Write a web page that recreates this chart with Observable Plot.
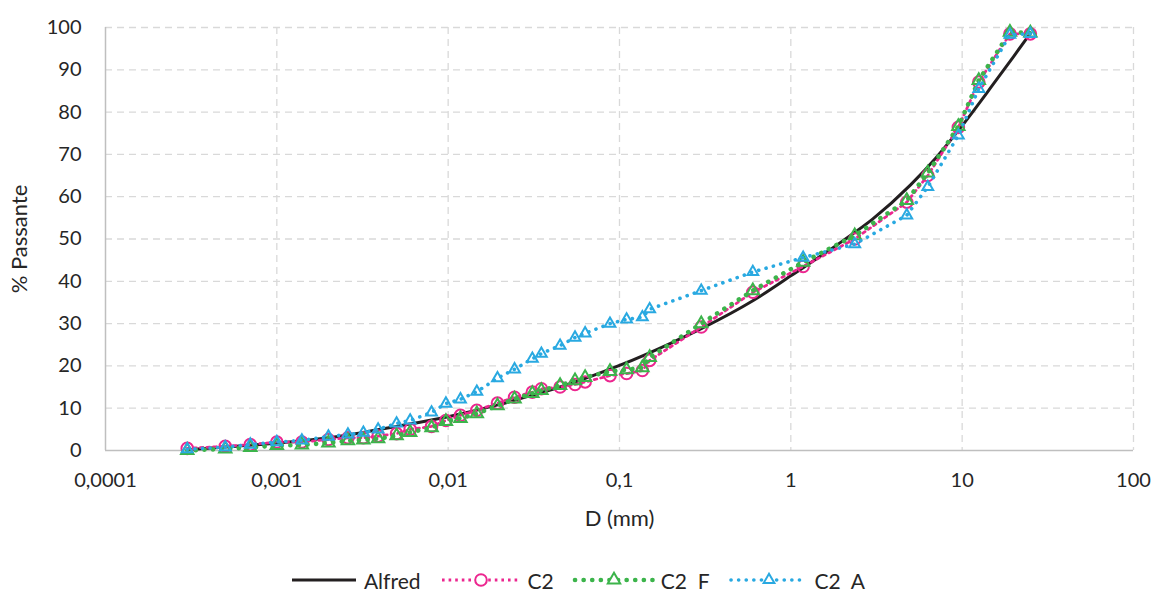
<!DOCTYPE html>
<html>
<head>
<meta charset="utf-8">
<script src="https://cdn.jsdelivr.net/npm/d3@7"></script>
<script src="https://cdn.jsdelivr.net/npm/@observablehq/plot@0.6"></script>
<style>
  html, body { margin: 0; padding: 0; background: #fff; }
  #chart { width: 1152px; height: 560px; }
  #legend { width: 1152px; height: 40px; display: flex; justify-content: center; align-items: center;
            font-family: Lato, "Open Sans", sans-serif; font-size: 21px; color: #262626; gap: 18px; padding-left: 2px; box-sizing: border-box; }
  .item { display: flex; align-items: center; gap: 5px; }
</style>
</head>
<body>
<div id="chart"></div>
<div id="legend"></div>
<script>
// Sieve / hydrometer diameters (mm)
const sizes = [0.0003, 0.0005, 0.0007, 0.001, 0.0014, 0.002, 0.0026, 0.0032, 0.0039, 0.005, 0.006, 0.008,
  0.0097, 0.0118, 0.0147, 0.0194, 0.0244, 0.031, 0.035, 0.045, 0.055, 0.063, 0.088, 0.11, 0.136, 0.15,
  0.3, 0.6, 1.18, 2.36, 4.75, 6.3, 9.5, 12.5, 19, 25];
// % passing
const c2  = [0.5, 1.0, 1.4, 2.0, 2.0, 2.6, 3.0, 3.0, 3.4, 4.0, 5.0, 5.7,
  7.1, 8.3, 9.5, 11.2, 12.6, 13.8, 14.6, 15.0, 15.6, 16.2, 17.7, 18.2, 18.9, 21.3,
  29.2, 37.4, 43.5, 50.0, 58.7, 65.0, 76.4, 87.1, 98.5, 98.5];
const c2F = [0.0, 0.4, 0.7, 1.2, 1.3, 1.8, 2.3, 2.5, 2.8, 3.5, 4.3, 5.4,
  6.9, 7.6, 8.7, 10.6, 12.2, 13.5, 14.2, 15.4, 16.5, 17.3, 18.7, 19.1, 19.6, 22.0,
  30.0, 37.8, 44.5, 50.8, 59.1, 65.6, 76.6, 87.5, 98.9, 98.7];
const c2A = [0.3, 0.8, 1.4, 2.0, 2.4, 3.3, 3.8, 4.2, 5.0, 6.4, 7.1, 9.0,
  11.1, 12.1, 13.9, 17.1, 19.2, 21.7, 22.9, 24.8, 26.7, 27.7, 30.0, 31.0, 31.5, 33.4,
  37.8, 42.2, 45.6, 48.8, 55.6, 62.3, 74.5, 85.5, 98.3, 98.5];
// Alfred reference curve (read at selected diameters)
const alfredD = [0.0003, 0.0005, 0.001, 0.002, 0.003, 0.005, 0.01, 0.02, 0.03, 0.05, 0.1, 0.2, 0.3, 0.6,
  1, 2, 3, 5, 7, 10, 15, 20, 25];
const alfredP = [0.2, 0.8, 1.75, 3.0, 4.1, 5.7, 8.0, 10.9, 12.9, 15.6, 20.1, 25.4, 28.8, 35.4,
  41.3, 49.5, 54.7, 62.8, 69.1, 76.8, 86.3, 93.2, 98.6];
// Axis ticks
const xTicks = [0.0001, 0.001, 0.01, 0.1, 1, 10, 100];
const xTickLabels = ["0,0001", "0,001", "0,01", "0,1", "1", "10", "100"];
const yTicks = [0, 10, 20, 30, 40, 50, 60, 70, 80, 90, 100];

const series = [
  {name: "Alfred", color: "#231f20"},
  {name: "C2", color: "#ec268f"},
  {name: "C2  F", color: "#3cb44b"},
  {name: "C2  A", color: "#29a9e1"}
];

const alfred = alfredD.map((d, i) => ({d, p: alfredP[i]}));
const rowsC2 = sizes.map((d, i) => ({d, p: c2[i]}));
const rowsF = sizes.map((d, i) => ({d, p: c2F[i]}));
const rowsA = sizes.map((d, i) => ({d, p: c2A[i]}));
const xLabelOf = new Map(xTicks.map((t, i) => [t, xTickLabels[i]]));

const grid = {stroke: "#d9d9d9", strokeOpacity: 1, strokeWidth: 1.3, strokeDasharray: "7,5"};

const plot = Plot.plot({
  width: 1152,
  height: 560,
  marginLeft: 105,
  marginRight: 19,
  marginTop: 27,
  marginBottom: 110,
  style: {fontFamily: "Lato, 'Open Sans', sans-serif", fontSize: "20px", color: "#262626", background: "#fff"},
  x: {type: "log", domain: [0.0001, 100]},
  y: {domain: [0, 100]},
  marks: [
    Plot.gridX(xTicks.slice(1), grid),
    Plot.gridY(yTicks.slice(1), grid),
    Plot.ruleY([0], {stroke: "#bfbfbf", strokeWidth: 1.5}),
    Plot.ruleX([0.0001], {stroke: "#bfbfbf", strokeWidth: 1.5}),
    Plot.axisX({ticks: xTicks, tickFormat: (d) => xLabelOf.get(d), tickSize: 0, tickPadding: 22, label: null}),
    Plot.axisY({ticks: yTicks, tickSize: 0, tickPadding: 24, label: null}),
    Plot.text(["D (mm)"], {frameAnchor: "bottom", dy: 75, fontSize: 22, fill: "#262626"}),
    Plot.text(["% Passante"], {frameAnchor: "left", textAnchor: "middle", dx: -86, rotate: -90, fontSize: 22, fill: "#262626"}),
    Plot.line(alfred, {x: "d", y: "p", stroke: series[0].color, strokeWidth: 3, curve: "monotone-x"}),
    Plot.line(rowsC2, {x: "d", y: "p", stroke: series[1].color, strokeWidth: 2.8, strokeDasharray: "2.6,4"}),
    Plot.dot(rowsC2, {x: "d", y: "p", r: 5.8, stroke: series[1].color, strokeWidth: 2, fill: "none"}),
    Plot.line(rowsF, {x: "d", y: "p", stroke: series[2].color, strokeWidth: 4.6, strokeDasharray: "0.1,8.5", strokeLinecap: "round"}),
    Plot.dot(rowsF, {x: "d", y: "p", r: 4.6, symbol: "triangle", stroke: series[2].color, strokeWidth: 2, fill: "none"}),
    Plot.line(rowsA, {x: "d", y: "p", stroke: series[3].color, strokeWidth: 3.6, strokeDasharray: "0.1,7.5", strokeLinecap: "round"}),
    Plot.dot(rowsA, {x: "d", y: "p", r: 4.0, symbol: "triangle", stroke: series[3].color, strokeWidth: 2, fill: "none"})
  ]
});
document.getElementById("chart").appendChild(plot);

// Legend
const legend = document.getElementById("legend");
const ns = "http://www.w3.org/2000/svg";
const styles = [
  {dash: null, width: 3, cap: "butt", marker: null, w: 70},
  {dash: "2.6,4", width: 2.8, cap: "butt", marker: "circle", w: 84},
  {dash: "0.1,8.5", width: 4.6, cap: "round", marker: "triangle", w: 84},
  {dash: "0.1,7.5", width: 3.6, cap: "round", marker: "triangleSmall", w: 82}
];
series.forEach((s, i) => {
  const item = document.createElement("div");
  item.className = "item";
  const w = styles[i].w;
  const svg = document.createElementNS(ns, "svg");
  svg.setAttribute("width", w); svg.setAttribute("height", 20);
  const line = document.createElementNS(ns, "line");
  line.setAttribute("x1", 3); line.setAttribute("x2", w - 3); line.setAttribute("y1", 10); line.setAttribute("y2", 10);
  line.setAttribute("stroke", s.color); line.setAttribute("stroke-width", styles[i].width);
  line.setAttribute("stroke-linecap", styles[i].cap);
  if (styles[i].dash) line.setAttribute("stroke-dasharray", styles[i].dash);
  svg.appendChild(line);
  const m = styles[i].marker;
  if (m === "circle") {
    const c = document.createElementNS(ns, "circle");
    c.setAttribute("cx", w / 2); c.setAttribute("cy", 10); c.setAttribute("r", 5.8);
    c.setAttribute("fill", "#fff"); c.setAttribute("stroke", s.color); c.setAttribute("stroke-width", 2);
    svg.appendChild(c);
  } else if (m) {
    const p = document.createElementNS(ns, "path");
    const sz = m === "triangle" ? Math.PI * 4.6 * 4.6 : Math.PI * 4 * 4;
    p.setAttribute("d", d3.symbol(d3.symbolTriangle, sz)());
    p.setAttribute("transform", `translate(${w / 2},10)`);
    p.setAttribute("fill", "#fff"); p.setAttribute("stroke", s.color); p.setAttribute("stroke-width", 2);
    svg.appendChild(p);
  }
  item.appendChild(svg);
  const t = document.createElement("span");
  t.textContent = s.name;
  t.style.whiteSpace = "pre";
  item.appendChild(t);
  legend.appendChild(item);
});
</script>
</body>
</html>
